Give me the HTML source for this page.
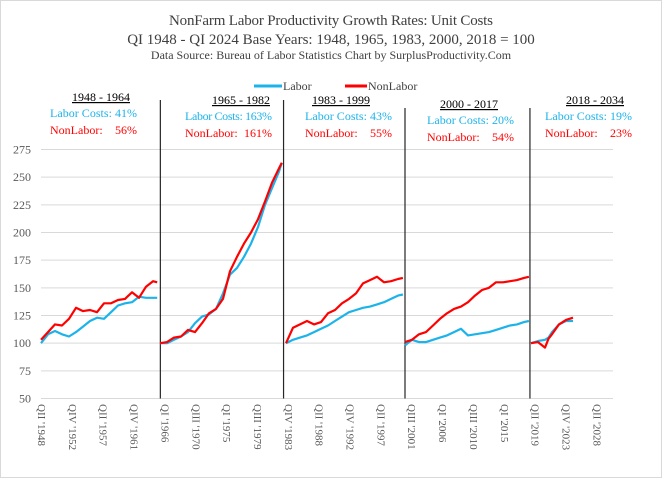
<!DOCTYPE html>
<html><head><meta charset="utf-8"><style>
body{margin:0;background:#fff}
svg{display:block;font-family:"Liberation Serif",serif}
</style></head><body>
<svg id="chart" width="662" height="478" viewBox="0 0 662 478">
<rect x="0.5" y="0.5" width="661" height="477" fill="#fff" stroke="#d9d9d9"/>
<text x="331" y="25" text-anchor="middle" font-size="15" fill="#404040" textLength="324">NonFarm Labor Productivity  Growth Rates: Unit Costs</text>
<text x="331" y="44" text-anchor="middle" font-size="15" fill="#404040">QI 1948  - QI 2024   Base Years: 1948, 1965,  1983,  2000,  2018 = 100</text>
<text x="331" y="59" text-anchor="middle" font-size="12" fill="#404040">Data Source:  Bureau  of Labor Statistics   Chart by SurplusProductivity.Com</text>
<g>
<line x1="254" y1="86" x2="282" y2="86" stroke="#1cb3ea" stroke-width="3"/>
<text x="283" y="90" font-size="12" fill="#404040">Labor</text>
<line x1="345" y1="86" x2="367" y2="86" stroke="#ff0000" stroke-width="3"/>
<text x="368" y="90" font-size="12" fill="#404040">NonLabor</text>
</g>
<g id="grid"></g>
<g id="ylab"></g>
<g id="xlab"></g>
<g id="seps"></g>
<g id="series"></g>
<g id="ann"></g>
</svg>
<script>
const yTicks=[50,75,100,125,150,175,200,225,250,275];
const xTickLabels=["QII '1948","QIV '1952","QII '1957","QIV '1961","QI '1966","QIII '1970","QI '1975","QIII '1979","QIV '1983","QII '1988","QIV '1992","QII '1997","QIII '2001","QI '2006","QIII '2010","QI '2015","QII '2019","QIV '2023","QII '2028"];
const separatorYears=[1965.05,1982.65,2000,2017.85];
const laborYears1=[1948,1949,1950,1951,1952,1953,1954,1955,1956,1957,1958,1959,1960,1961,1962,1963,1964,1964.6];
const labor1=[100,108,111,108,106,110,115,120,123,122,128,134,136,137,142,141,141,141];
const nonLabor1=[103,110,117,116,122,132,129,130,128,136,136,139,140,146,141,151,156,155];
const years2=[1965,1966,1967,1968,1969,1970,1971,1972,1973,1974,1975,1976,1977,1978,1979,1980,1981,1982,1982.4];
const labor2=[100,100,103,106,110,118,124,126,131,145,162,168,178,190,205,225,240,255,263];
const nonLabor2=[100,101,105,106,112,110,118,127,131,140,165,178,190,200,212,228,245,258,263];
const years3=[1983,1984,1985,1986,1987,1988,1989,1990,1991,1992,1993,1994,1995,1996,1997,1998,1999,1999.7];
const labor3=[100,103,105,107,110,113,116,120,124,128,130,132,133,135,137,140,143,144];
const nonLabor3=[100,114,117,120,117,119,127,130,136,140,145,154,157,160,155,156,158,159];
const years4=[2000,2001,2002,2003,2004,2005,2006,2007,2008,2009,2010,2011,2012,2013,2014,2015,2016,2017,2017.7];
const labor4=[98,103,101,101,103,105,107,110,113,107,108,109,110,112,114,116,117,119,120];
const nonLabor4=[101,103,108,110,116,122,127,131,133,137,143,148,150,155,155,156,157,159,160];
const years5=[2018,2019,2020,2020.5,2021,2022,2023,2024];
const labor5=[100,102,103,105,110,117,120,120];
const nonLabor5=[100,101,96,104,108,117,121,123];
const periods=["1948 - 1964","1965 - 1982","1983 - 1999","2000 - 2017","2018 - 2034"];
const laborPct=["41%","163%","43%","20%","19%"];
const nonLaborPct=["56%","161%","55%","54%","23%"];

const NS="http://www.w3.org/2000/svg";
const xL=41,xR=613,yT=149.5,yB=398.5;
const y=v=>yB-(v-50)/(275-50)*(yB-yT);
const x=yr=>41+(yr-1948)*7;
const xt=i=>42+i*30.85;
function mk(tag,attrs,parent,txt){const e=document.createElementNS(NS,tag);for(const k in attrs)e.setAttribute(k,attrs[k]);if(txt!==undefined)e.textContent=txt;document.getElementById(parent).appendChild(e);return e;}

yTicks.forEach(t=>{
 const g=mk('line',{x1:xL,x2:xR,y1:y(t),y2:y(t),stroke:'#d9d9d9','stroke-width':1},'grid');
 
 
 const l=mk('text',{x:31,y:y(t)+4,'text-anchor':'end','font-size':12,fill:'#595959'},'ylab',String(t));
 
 
});
xTickLabels.forEach((s,i)=>{
 const px=xt(i);
 const t=mk('text',{x:0,y:0,'font-size':11,fill:'#595959',transform:`translate(${px-4},404) rotate(90)`},'xlab',s);
 
 
});
const sepTops=[100,100,108,108];
separatorYears.forEach((yr,i)=>{
 const l=mk('line',{x1:x(yr),x2:x(yr),y1:sepTops[i],y2:yB,stroke:'#262626','stroke-width':1.2},'seps');
 
 
});
function line(xs,vs,color,name){
 const d=xs.map((yr,i)=>(i?'L':'M')+x(yr).toFixed(1)+','+y(vs[i]).toFixed(1)).join('');
 const p=mk('path',{d:d,fill:'none',stroke:color,'stroke-width':2.2,'stroke-linejoin':'round'},'series');
 
 
}
const segs=[[laborYears1,labor1,nonLabor1],[years2,labor2,nonLabor2],[years3,labor3,nonLabor3],[years4,labor4,nonLabor4],[years5,labor5,nonLabor5]];
segs.forEach((s,i)=>{line(s[0],s[1],'#1cb3ea','labor-line-period-'+(i+1));line(s[0],s[2],'#ff0000','nonlabor-line-period-'+(i+1));});

const annX=[101,241,341,469,595];
const annY=[101,104,104,108,104];
const labX=[50,185,305,427,545];
const nlX=[50,185,305,427,545];
periods.forEach((p,i)=>{
 const ty=annY[i];
 const h=mk('text',{x:annX[i],y:ty,'text-anchor':'middle','font-size':12,fill:'#000','text-decoration':'underline'},'ann',p);
 
 
 const a=mk('text',{x:labX[i],y:ty+16,'font-size':12,fill:'#1cb3ea',textLength:87},'ann','Labor Costs: '+laborPct[i]);
 
 
 const b=mk('text',{x:nlX[i],y:ty+33,'font-size':12,fill:'#ff0000'},'ann','NonLabor:');
 
 
 const c=mk('text',{x:labX[i]+87,y:ty+33,'font-size':12,fill:'#ff0000','text-anchor':'end'},'ann',nonLaborPct[i]);
 
 
});
</script>
</body></html>
